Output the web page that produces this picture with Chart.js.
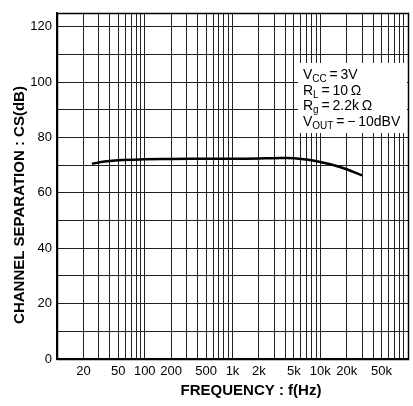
<!DOCTYPE html>
<html>
<head>
<meta charset="utf-8">
<script src="https://cdn.jsdelivr.net/npm/chart.js@4/dist/chart.umd.min.js"></script>
<style>
  html, body { margin: 0; padding: 0; background: #fff; }
  canvas { display: block; }
</style>
</head>
<body>
<canvas id="separationChart" width="413" height="406"></canvas>
<script>
// curve (Hz, dB)
var freqHz = [25, 35, 50, 100, 200, 500, 1000, 2000, 3000, 5000, 7000, 10000, 15000, 20000, 30000];
var separationDb = [70.5, 71.3, 71.8, 72.1, 72.2, 72.3, 72.3, 72.4, 72.5, 72.5, 72.0, 71.1, 69.8, 68.5, 66.3];

// labelled ticks
var xTickValues = [20, 50, 100, 200, 500, 1000, 2000, 5000, 10000, 20000, 50000];
var xTickLabels = ["20", "50", "100", "200", "500", "1k", "2k", "5k", "10k", "20k", "50k"];
var yTickLabels = [0, 20, 40, 60, 80, 100, 120];

// condition box lines: [main, subscript, rest]
var conditionLines = [
  ["V", "CC", "\u2009=\u20093V"],
  ["R", "L", "\u2009=\u200910\u2009\u03A9"],
  ["R", "g", "\u2009=\u20092.2k\u2009\u03A9"],
  ["V", "OUT", "\u2009=\u2009\u2212\u200910dBV"]
];

var FONT = "'Liberation Sans', Arial, sans-serif";

// every 1..9 multiple from 10 Hz to 100 kHz gets a grid line
var xGrid = [];
for (var d = 10; d < 100000; d *= 10) {
  for (var m = 1; m < 10; m++) xGrid.push(d * m);
}
xGrid.push(100000);

var points = freqHz.map(function (f, i) {
  return { x: f, y: separationDb[i] };
});

// frame, axis titles and the white conditions box
var extrasPlugin = {
  id: "extras",
  beforeDatasetsDraw: function (chart) {
    var a = chart.chartArea;
    var ctx = chart.ctx;
    ctx.save();
    ctx.strokeStyle = "#000";
    ctx.lineWidth = 1.5;
    ctx.strokeRect(Math.round(a.left) + 0.5, Math.round(a.top) + 0.5,
      Math.round(a.right - a.left), Math.round(a.bottom - a.top));
    ctx.restore();
  },
  afterDraw: function (chart) {
    var ctx = chart.ctx;
    ctx.save();
    ctx.fillStyle = "#000";

    ctx.font = "bold 15px " + FONT;
    ctx.textAlign = "center";
    ctx.textBaseline = "middle";
    ctx.fillText("FREQUENCY : f(Hz)", 251, 391);

    ctx.translate(20, 205);
    ctx.rotate(-Math.PI / 2);
    ctx.fillText("CHANNEL SEPARATION : CS(dB)", 0, 0);
    ctx.restore();

    ctx.save();
    ctx.fillStyle = "#fff";
    ctx.fillRect(298, 63, 109, 70);
    ctx.fillStyle = "#000";
    ctx.textAlign = "left";
    ctx.textBaseline = "alphabetic";
    var baseY = [79, 95, 110, 126];
    conditionLines.forEach(function (line, i) {
      var x = 303;
      ctx.font = "14px " + FONT;
      ctx.fillText(line[0], x, baseY[i]);
      x += ctx.measureText(line[0]).width;
      ctx.font = "10px " + FONT;
      ctx.fillText(line[1], x, baseY[i] + 3);
      x += ctx.measureText(line[1]).width;
      ctx.font = "14px " + FONT;
      ctx.fillText(line[2], x, baseY[i]);
    });
    ctx.restore();
  }
};

var chartCtx = document.getElementById("separationChart").getContext("2d");

var separationChart = new Chart(chartCtx, {
  type: "line",
  data: {
    datasets: [
      {
        data: points,
        borderColor: "#000",
        borderWidth: 2.5,
        pointRadius: 0,
        tension: 0.4,
        fill: false
      }
    ]
  },
  options: {
    responsive: false,
    animation: false,
    devicePixelRatio: 1,
    layout: { padding: { top: 8, right: 5, left: 0, bottom: 0 } },
    plugins: { legend: { display: false }, tooltip: { enabled: false } },
    scales: {
      x: {
        type: "logarithmic",
        min: 10,
        max: 100000,
        afterBuildTicks: function (scale) {
          scale.ticks = xGrid.map(function (v) { return { value: v }; });
        },
        afterFit: function (scale) { scale.height = 47; },
        border: { color: "#000", width: 1.5 },
        grid: { color: "#222", lineWidth: 1, drawTicks: false },
        ticks: {
          autoSkip: false,
          maxRotation: 0,
          padding: 5,
          color: "#000",
          font: { family: FONT, size: 13 },
          callback: function (value) {
            var idx = xTickValues.indexOf(Math.round(value));
            return idx >= 0 ? xTickLabels[idx] : "";
          }
        }
      },
      y: {
        min: 0,
        max: 125,
        afterFit: function (scale) { scale.width = 57; },
        border: { color: "#000", width: 1.5 },
        grid: { color: "#222", lineWidth: 1, drawTicks: false },
        ticks: {
          stepSize: 5,
          padding: 5,
          color: "#000",
          font: { family: FONT, size: 13 },
          callback: function (value) {
            return yTickLabels.indexOf(value) >= 0 ? String(value) : "";
          }
        }
      }
    }
  },
  plugins: [extrasPlugin]
});
</script>
</body>
</html>
